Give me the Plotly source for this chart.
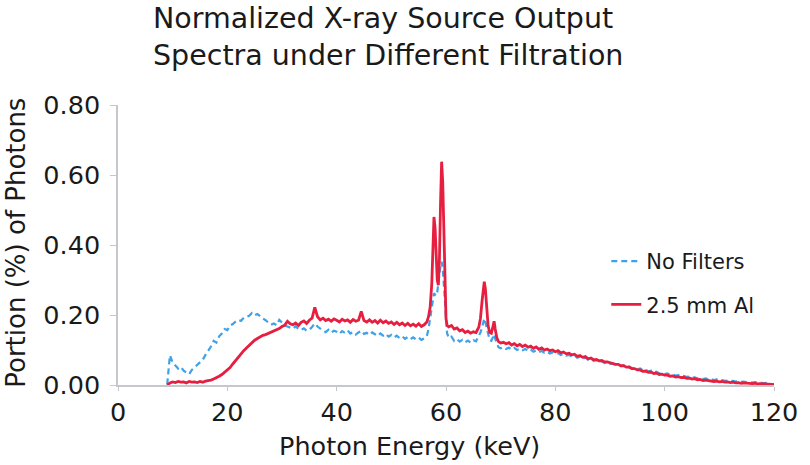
import plotly.graph_objects as go

# ---- Energy bins (keV), split into segments ----
E_A = [9.0, 9.5, 10.0, 10.5, 11.0, 11.5, 12.0, 12.5, 13.0, 13.5,
       14.0, 14.5, 15.0, 15.5, 16.0, 16.5, 17.0, 17.5, 18.0, 18.5,
       19.0, 19.5, 20.0, 20.5, 21.0, 21.5, 22.0, 22.5, 23.0, 23.5,
       24.0, 24.5, 25.0, 25.5, 26.0, 26.5, 27.0, 27.5, 28.0, 28.5,
       29.0, 29.5, 30.0, 30.5, 31.0, 31.5, 32.0, 32.5, 33.0, 33.5,
       34.0, 34.5, 35.0, 35.5, 36.0, 36.5, 37.0, 37.5, 38.0, 38.5,
       39.0, 39.5, 40.0, 40.5, 41.0, 41.5, 42.0, 42.5, 43.0, 43.5,
       44.0, 44.5, 45.0, 45.5, 46.0, 46.5, 47.0, 47.5, 48.0, 48.5,
       49.0, 49.5, 50.0, 50.5, 51.0, 51.5, 52.0, 52.5, 53.0, 53.5,
       54.0, 54.5, 55.0, 55.5, 56.0, 56.5]
E_B = [56.8, 57.1, 57.4, 57.6, 57.8, 58.0, 58.2, 58.4, 58.6, 58.8,
       59.0, 59.2, 59.4, 59.6, 59.8, 60.0, 60.2, 60.5]
E_C = [61.0, 61.5, 62.0, 62.5, 63.0, 63.5, 64.0, 64.5, 65.0, 65.5, 66.0]
E_D = [66.3, 66.6, 66.8, 67.0, 67.2, 67.4, 67.7, 68.0, 68.3, 68.6,
       68.8, 69.0, 69.3, 69.6]
E_E = [70.0, 70.5, 71.0, 71.5, 72.0, 72.5, 73.0, 73.5, 74.0, 74.5,
       75.0, 75.5, 76.0, 76.5, 77.0, 77.5, 78.0, 78.5, 79.0, 79.5,
       80.0, 80.5, 81.0, 81.5, 82.0, 82.5, 83.0, 83.5, 84.0, 84.5,
       85.0, 85.5, 86.0, 86.5, 87.0, 87.5, 88.0, 88.5, 89.0, 89.5,
       90.0, 90.5, 91.0, 91.5, 92.0, 92.5, 93.0, 93.5, 94.0, 94.5,
       95.0, 95.5, 96.0, 96.5, 97.0, 97.5, 98.0, 98.5, 99.0, 99.5,
       100.0, 100.5, 101.0, 101.5, 102.0, 102.5, 103.0, 103.5, 104.0, 104.5,
       105.0, 105.5, 106.0, 106.5, 107.0, 107.5, 108.0, 108.5, 109.0, 109.5,
       110.0, 110.5, 111.0, 111.5, 112.0, 112.5, 113.0, 113.5, 114.0, 114.5,
       115.0, 115.5, 116.0, 116.5, 117.0, 117.5, 118.0, 118.5, 119.0, 119.5,
       120.0]

# ---- No Filters (portion of photons, %) ----
NF_A = [0.002, 0.085, 0.064, 0.056, 0.047, 0.052, 0.041, 0.036, 0.031, 0.043,
        0.050, 0.057, 0.066, 0.072, 0.086, 0.097, 0.110, 0.126, 0.121, 0.139,
        0.147, 0.160, 0.157, 0.170, 0.174, 0.181, 0.186, 0.183, 0.192, 0.195,
        0.198, 0.206, 0.199, 0.203, 0.195, 0.190, 0.185, 0.178, 0.172, 0.176,
        0.171, 0.186, 0.178, 0.170, 0.167, 0.164, 0.161, 0.168, 0.160, 0.157,
        0.162, 0.155, 0.158, 0.166, 0.176, 0.167, 0.160, 0.155, 0.151, 0.158,
        0.150, 0.155, 0.152, 0.146, 0.154, 0.149, 0.156, 0.147, 0.151, 0.144,
        0.150, 0.155, 0.146, 0.149, 0.143, 0.150, 0.145, 0.140, 0.147, 0.141,
        0.146, 0.138, 0.143, 0.136, 0.141, 0.134, 0.139, 0.132, 0.137, 0.131,
        0.136, 0.130, 0.135, 0.129, 0.133, 0.140]
NF_B = [0.160, 0.190, 0.222, 0.240, 0.262, 0.258, 0.255, 0.265, 0.285, 0.318,
        0.340, 0.352, 0.335, 0.290, 0.230, 0.175, 0.148, 0.134]
NF_C = [0.138, 0.126, 0.131, 0.124, 0.129, 0.122, 0.127, 0.121, 0.128, 0.125, 0.140]
NF_D = [0.150, 0.165, 0.182, 0.190, 0.180, 0.165, 0.145, 0.128, 0.126, 0.138,
        0.145, 0.132, 0.118, 0.108]
NF_E = [0.105, 0.108, 0.103, 0.107, 0.101, 0.106, 0.100, 0.104, 0.099, 0.103,
        0.097, 0.101, 0.095, 0.099, 0.094, 0.097, 0.092, 0.095, 0.090, 0.093,
        0.089, 0.091, 0.086, 0.089, 0.084, 0.086, 0.081, 0.084, 0.078, 0.081,
        0.075, 0.078, 0.072, 0.075, 0.069, 0.071, 0.066, 0.068, 0.063, 0.065,
        0.060, 0.062, 0.057, 0.059, 0.054, 0.056, 0.051, 0.053, 0.048, 0.050,
        0.045, 0.047, 0.042, 0.044, 0.039, 0.041, 0.036, 0.038, 0.033, 0.035,
        0.031, 0.033, 0.029, 0.030, 0.027, 0.028, 0.025, 0.026, 0.023, 0.024,
        0.021, 0.022, 0.019, 0.020, 0.017, 0.019, 0.016, 0.017, 0.014, 0.016,
        0.013, 0.014, 0.012, 0.013, 0.011, 0.012, 0.010, 0.011, 0.009, 0.010,
        0.008, 0.009, 0.007, 0.008, 0.006, 0.007, 0.005, 0.006, 0.004, 0.004,
        0.002]

# ---- 2.5 mm Al ----
AL_A = [0.000, 0.006, 0.009, 0.007, 0.010, 0.008, 0.009, 0.006, 0.010, 0.008,
        0.009, 0.007, 0.010, 0.008, 0.011, 0.012, 0.014, 0.017, 0.020, 0.025,
        0.030, 0.036, 0.042, 0.050, 0.060, 0.070, 0.079, 0.089, 0.098, 0.106,
        0.114, 0.121, 0.128, 0.133, 0.138, 0.142, 0.144, 0.147, 0.150, 0.153,
        0.156, 0.161, 0.167, 0.171, 0.182, 0.175, 0.172, 0.177, 0.170, 0.179,
        0.183, 0.176, 0.185, 0.191, 0.222, 0.195, 0.186, 0.191, 0.184, 0.188,
        0.182, 0.189, 0.185, 0.180, 0.188, 0.183, 0.186, 0.179, 0.187, 0.182,
        0.185, 0.210, 0.184, 0.180, 0.186, 0.179, 0.184, 0.177, 0.185, 0.178,
        0.183, 0.176, 0.180, 0.173, 0.179, 0.172, 0.177, 0.170, 0.176, 0.169,
        0.174, 0.168, 0.175, 0.167, 0.172, 0.180]
AL_B = [0.195, 0.222, 0.290, 0.400, 0.480, 0.450, 0.360, 0.300, 0.285, 0.360,
        0.520, 0.638, 0.580, 0.420, 0.260, 0.190, 0.170, 0.166]
AL_C = [0.170, 0.160, 0.163, 0.155, 0.158, 0.150, 0.154, 0.148, 0.152, 0.150, 0.165]
AL_D = [0.190, 0.240, 0.280, 0.295, 0.275, 0.230, 0.170, 0.150, 0.148, 0.168,
        0.182, 0.160, 0.135, 0.124]
AL_E = [0.120, 0.122, 0.118, 0.121, 0.114, 0.118, 0.112, 0.116, 0.110, 0.114,
        0.108, 0.111, 0.105, 0.109, 0.102, 0.106, 0.100, 0.103, 0.098, 0.100,
        0.095, 0.098, 0.092, 0.094, 0.089, 0.091, 0.086, 0.088, 0.082, 0.084,
        0.079, 0.081, 0.075, 0.077, 0.072, 0.073, 0.069, 0.070, 0.066, 0.066,
        0.063, 0.062, 0.059, 0.059, 0.055, 0.055, 0.051, 0.051, 0.047, 0.047,
        0.043, 0.043, 0.039, 0.040, 0.036, 0.037, 0.033, 0.034, 0.030, 0.031,
        0.028, 0.028, 0.025, 0.026, 0.023, 0.024, 0.021, 0.022, 0.019, 0.020,
        0.017, 0.018, 0.015, 0.016, 0.013, 0.014, 0.012, 0.012, 0.010, 0.011,
        0.009, 0.010, 0.008, 0.009, 0.007, 0.008, 0.006, 0.007, 0.005, 0.006,
        0.005, 0.005, 0.004, 0.005, 0.003, 0.004, 0.003, 0.003, 0.002, 0.002,
        0.001]

X_TICKS = [0, 20, 40, 60, 80, 100, 120]
Y_TICKS = [0.0, 0.2, 0.4, 0.6, 0.8]
Y_TICK_TEXT = ["0.00", "0.20", "0.40", "0.60", "0.80"]

energy = E_A + E_B + E_C + E_D + E_E
no_filters = NF_A + NF_B + NF_C + NF_D + NF_E
al_25 = AL_A + AL_B + AL_C + AL_D + AL_E

FONT = "'DejaVu Sans', sans-serif"
TXT = "#1a1a1a"
AXC = "#c4c8cc"

# plot area in pixels: x 118..779, y 105..385
PL, PR, PT, PB = 118, 779, 105, 385
PW, PH = PR - PL, PB - PT

fig = go.Figure()
fig.add_trace(go.Scatter(x=energy, y=no_filters, mode="lines", name="No Filters",
                         legendgroup="a",
                         line=dict(color="#3fa2e8", width=2.2, dash="6px,4px")))
fig.add_trace(go.Scatter(x=energy, y=al_25, mode="lines", name="2.5 mm Al",
                         legendgroup="b",
                         line=dict(color="#e61f40", width=2.8)))

fig.update_layout(
    width=810, height=465,
    margin=dict(l=PL, r=810 - PR, t=PT, b=465 - PB),
    paper_bgcolor="white", plot_bgcolor="white",
    font=dict(family=FONT, color=TXT, size=24),
    showlegend=True,
    legend=dict(x=(610 - PL) / PW, xanchor="left", y=(PB - 241) / PH, yanchor="top",
                font=dict(family=FONT, size=21, color=TXT),
                traceorder="grouped", tracegroupgap=13,
                bgcolor="rgba(0,0,0,0)"),
    xaxis=dict(range=[0, 120], tickvals=X_TICKS, ticks="outside", ticklen=4,
               tickcolor=AXC, showline=True, linecolor=AXC, linewidth=1.5,
               showgrid=False, zeroline=False,
               tickfont=dict(family=FONT, size=25.5, color=TXT)),
    yaxis=dict(range=[0, 0.8], tickvals=Y_TICKS, ticktext=Y_TICK_TEXT,
               ticks="outside", ticklen=6, tickcolor=AXC, showline=True,
               linecolor=AXC, linewidth=1.5, showgrid=False, zeroline=False,
               ticklabelstandoff=5,
               tickfont=dict(family=FONT, size=25.5, color=TXT)),
)

fig.add_annotation(text="Normalized X-ray Source Output<br>Spectra under Different Filtration",
                   xref="paper", yref="paper",
                   x=(151 - PL) / PW, y=1 + (PT - 0) / PH,
                   xanchor="left", yanchor="top", align="left", showarrow=False,
                   font=dict(family=FONT, size=28.5, color=TXT))
fig.add_annotation(text="Photon Energy (keV)", xref="paper", yref="paper",
                   x=(412 - PL) / PW, y=(PB - 446) / PH,
                   xanchor="center", yanchor="middle", showarrow=False,
                   font=dict(family=FONT, size=25.5, color=TXT))
fig.add_annotation(text="Portion (%) of Photons", xref="paper", yref="paper",
                   x=(15 - PL) / PW, y=(PB - 243) / PH, textangle=-90,
                   xanchor="center", yanchor="middle", showarrow=False,
                   font=dict(family=FONT, size=26, color=TXT))

fig.write_html("out.html", config={"displayModeBar": False},
               post_script="document.body.style.margin='0';")
